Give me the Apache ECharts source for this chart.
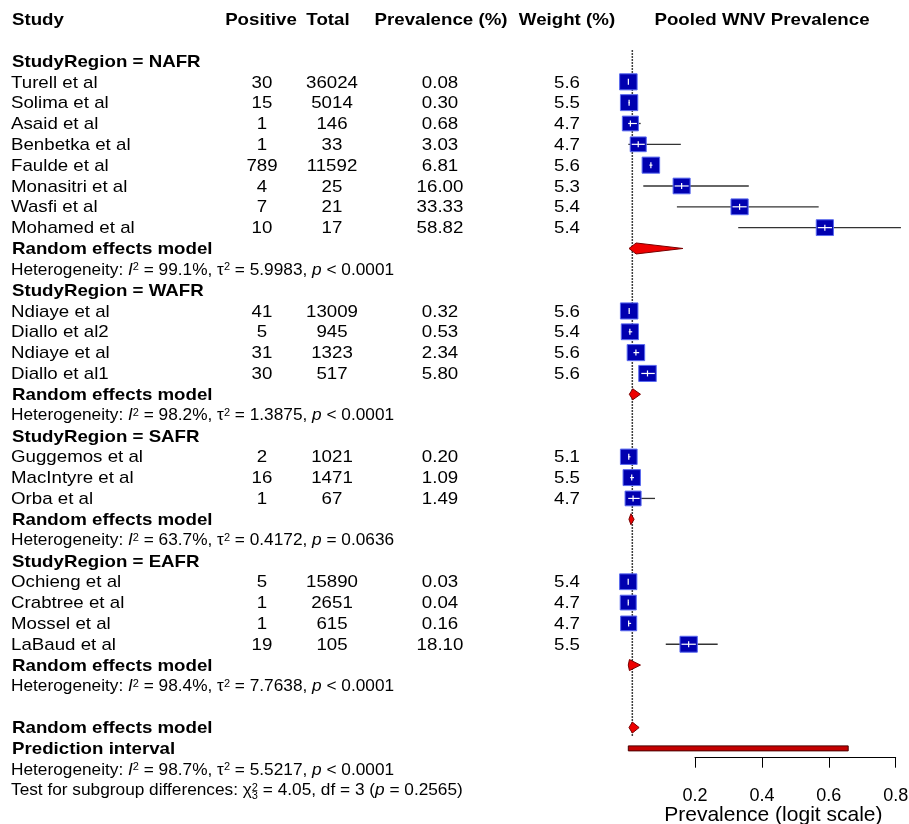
<!DOCTYPE html>
<html><head><meta charset="utf-8">
<script src="https://cdn.jsdelivr.net/npm/echarts@6/dist/echarts.min.js"></script>
<style>html,body{margin:0;padding:0;background:#fff}#chart{width:909px;height:824px}</style>
</head><body><div id="chart"></div>
<script>
// ---------------- data ----------------
const headers = ['Study', 'Positive', 'Total', 'Prevalence (%)', 'Weight (%)', 'Pooled WNV Prevalence'];
const regions = ['NAFR', 'WAFR', 'SAFR', 'EAFR'];
const studyNames = ['Turell et al', 'Solima et al', 'Asaid et al', 'Benbetka et al', 'Faulde et al', 'Monasitri et al', 'Wasfi et al', 'Mohamed et al',
  'Ndiaye et al', 'Diallo et al2', 'Ndiaye et al', 'Diallo et al1',
  'Guggemos et al', 'MacIntyre et al', 'Orba et al',
  'Ochieng et al', 'Crabtree et al', 'Mossel et al', 'LaBaud et al'];
const studyRegion = ['NAFR', 'NAFR', 'NAFR', 'NAFR', 'NAFR', 'NAFR', 'NAFR', 'NAFR',
  'WAFR', 'WAFR', 'WAFR', 'WAFR',
  'SAFR', 'SAFR', 'SAFR',
  'EAFR', 'EAFR', 'EAFR', 'EAFR'];
const positives = [30, 15, 1, 1, 789, 4, 7, 10, 41, 5, 31, 30, 2, 16, 1, 5, 1, 1, 19];
const totals = [36024, 5014, 146, 33, 11592, 25, 21, 17, 13009, 945, 1323, 517, 1021, 1471, 67, 15890, 2651, 615, 105];
const prevalencePct = [0.08, 0.30, 0.68, 3.03, 6.81, 16.00, 33.33, 58.82, 0.32, 0.53, 2.34, 5.80, 0.20, 1.09, 1.49, 0.03, 0.04, 0.16, 18.10];
const weightPct = [5.6, 5.5, 4.7, 4.7, 5.6, 5.3, 5.4, 5.4, 5.6, 5.4, 5.6, 5.6, 5.1, 5.5, 4.7, 5.4, 4.7, 4.7, 5.5];
const ciLowerPct = [0.06, 0.17, 0.02, 0.08, 6.36, 4.54, 14.59, 32.92, 0.23, 0.17, 1.60, 3.95, 0.02, 0.62, 0.04, 0.01, 0.00, 0.00, 11.26];
const ciUpperPct = [0.12, 0.49, 3.76, 15.76, 7.28, 36.08, 56.97, 81.56, 0.43, 1.23, 3.31, 8.18, 0.71, 1.76, 8.04, 0.07, 0.21, 0.90, 26.78];
const pooledEstPct = [2.4, 1.4, 0.85, 0.4];
const pooledLowerPct = [0.27, 0.36, 0.25, 0.05];
const pooledUpperPct = [16.4, 3.7, 1.8, 3.7];
const hetI2 = ['99.1%', '98.2%', '63.7%', '98.4%'];
const hetTau2 = ['5.9983', '1.3875', '0.4172', '7.7638'];
const hetP = ['< 0.0001', '< 0.0001', '= 0.0636', '< 0.0001'];
const overallEstPct = [1.26];
const overallLowerPct = [0.27];
const overallUpperPct = [3.3];
const predLowerPct = [0.06];
const predUpperPct = [65.8];
const overallHet = ['98.7%', '5.5217', '< 0.0001'];
const subgroupTest = ['4.05', '3', '0.2565'];
const xTicks = [0.2, 0.4, 0.6, 0.8];
const xTitle = 'Prevalence (logit scale)';

// ---------------- layout / style ----------------
const SX = 1.1;
const FONT = '"Liberation Sans", Arial, Helvetica, sans-serif';
const MAIN = 17, HET = 15.7;
const HEAD_X = [12, 261, 328, 441, 567, 762];
const HEAD_AL = ['left', 'center', 'center', 'center', 'center', 'center'];
const COLX = {name: 11, pos: 262, tot: 332, prev: 440, wt: 567};

// build row structure
const tableRows = [{row: -2, kind: 'header'}];
const studyRows = [], pooledRows = [];
let r = 0;
regions.forEach((reg, g) => {
  tableRows.push({row: r++, kind: 'region', g});
  studyNames.forEach((n, i) => {
    if (studyRegion[i] === reg) { studyRows.push({row: r, i}); tableRows.push({row: r++, kind: 'study', i}); }
  });
  pooledRows.push({row: r, est: pooledEstPct[g], lo: pooledLowerPct[g], hi: pooledUpperPct[g]});
  tableRows.push({row: r++, kind: 'pooled'});
  tableRows.push({row: r++, kind: 'het', g});
});
r++;
pooledRows.push({row: r, est: overallEstPct[0], lo: overallLowerPct[0], hi: overallUpperPct[0]});
tableRows.push({row: r++, kind: 'pooled'});
const predRow = r;
tableRows.push({row: r++, kind: 'pi'});
tableRows.push({row: r++, kind: 'ohet'});
tableRows.push({row: r++, kind: 'test'});

const RICH = {
  i: {fontStyle: 'italic', fontSize: HET, fontFamily: FONT, fill: '#000', color: '#000'},
  g: {fontSize: HET, fontFamily: FONT, fill: '#000', color: '#000'},
  sup: {fontSize: 10, fontFamily: FONT, fill: '#000', color: '#000', verticalAlign: 'top'}
};
function T(x, y, text, o) {
  o = o || {};
  return {type: 'text', x: x, y: y, scaleX: SX, silent: true,
    style: {text: text, x: 0, y: 0, fill: '#000', fontFamily: FONT, fontSize: o.size || MAIN,
      fontWeight: o.bold ? 'bold' : 'normal', align: o.align || 'left', verticalAlign: 'middle', rich: o.rich}};
}
function hetText(i2, tau, p) {
  return 'Heterogeneity: {i|I}{sup|2} = ' + i2 + ', {g|τ}{sup|2} = ' + tau + ', {i|p} ' + p;
}
const measureCtx = document.createElement('canvas').getContext('2d');
function measure(t, size) { measureCtx.font = size + 'px ' + FONT; return measureCtx.measureText(t).width; }

// row r sits at y = 61 + 20.83 r ; axis line at y = 757.7
const ROWPX = 20.83, Y0 = 61, YMIN = -1, YMAX = 34;
const gridTop = Y0 + YMIN * ROWPX, gridH = (YMAX - YMIN) * ROWPX;
const axisY = 757.7;

const chart = echarts.init(document.getElementById('chart'), null, {renderer: 'canvas'});
chart.setOption({
  animation: false,
  backgroundColor: '#fff',
  grid: {left: 695, right: 13.3, top: gridTop, height: gridH, containLabel: false, outerBoundsMode: 'none'},
  xAxis: {
    type: 'value', min: xTicks[0], max: xTicks[xTicks.length - 1], interval: 0.2,
    offset: axisY - (gridTop + gridH),
    axisLine: {show: true, onZero: false, lineStyle: {color: '#000', width: 1}},
    axisTick: {show: true, length: 10, lineStyle: {color: '#000', width: 1}},
    axisLabel: {fontSize: 18, color: '#000', fontFamily: FONT, margin: 29, formatter: v => v.toFixed(1)},
    splitLine: {show: false},
    name: xTitle, nameLocation: 'middle', nameGap: 47, nameMoveOverlap: false,
    nameTextStyle: {fontSize: 21, color: '#000', fontFamily: FONT, padding: [0, 44, 0, 0]}
  },
  yAxis: {type: 'value', inverse: true, min: YMIN, max: YMAX, interval: 1, show: false},
  series: [
    { // reference line at overall estimate
      type: 'custom', clip: false, silent: true, z: 1,
      data: [[overallEstPct[0] / 100, -0.52, 32.4]],
      renderItem: (p, api) => {
        const a = api.coord([api.value(0), api.value(1)]);
        const b = api.coord([api.value(0), api.value(2)]);
        return {type: 'line', shape: {x1: a[0], y1: a[1], x2: b[0], y2: b[1]},
          style: {stroke: '#000', lineWidth: 1.5, lineDash: [1.5, 1.5]}};
      }
    },
    { // studies
      type: 'custom', clip: false, silent: true, z: 3,
      data: studyRows.map(d => [prevalencePct[d.i] / 100, d.row, ciLowerPct[d.i] / 100, ciUpperPct[d.i] / 100, weightPct[d.i]]),
      renderItem: (p, api) => {
        const row = api.value(1);
        const c = api.coord([api.value(0), row]);
        const lo = api.coord([api.value(2), row]);
        const hi = api.coord([api.value(3), row]);
        const w = api.value(4);
        const sw = Math.sqrt(w) * 7.4, sh = Math.sqrt(w) * 6.8;
        const x0 = c[0] - sw / 2, x1 = c[0] + sw / 2;
        const ch = [
          {type: 'line', shape: {x1: lo[0], y1: c[1], x2: hi[0], y2: c[1]}, style: {stroke: '#333', lineWidth: 1.3}},
          {type: 'rect', shape: {x: x0, y: c[1] - sh / 2, width: sw, height: sh}, style: {fill: '#0000b0', stroke: '#5a6af0', lineWidth: 1}}
        ];
        const ix0 = Math.max(lo[0], x0 + 1.5), ix1 = Math.min(hi[0], x1 - 1.5);
        if (ix1 > ix0) ch.push({type: 'line', shape: {x1: ix0, y1: c[1], x2: ix1, y2: c[1]}, style: {stroke: '#fff', lineWidth: 1.2}});
        ch.push({type: 'line', shape: {x1: c[0], y1: c[1] - 3, x2: c[0], y2: c[1] + 3}, style: {stroke: '#fff', lineWidth: 1.2}});
        return {type: 'group', children: ch};
      }
    },
    { // pooled diamonds
      type: 'custom', clip: false, silent: true, z: 4,
      data: pooledRows.map(d => [d.est / 100, d.row, d.lo / 100, d.hi / 100]),
      renderItem: (p, api) => {
        const row = api.value(1);
        const c = api.coord([api.value(0), row]);
        const lo = api.coord([api.value(2), row]);
        const hi = api.coord([api.value(3), row]);
        const h = 5.5;
        return {type: 'polygon', shape: {points: [[lo[0], c[1]], [c[0], c[1] - h], [hi[0], c[1]], [c[0], c[1] + h]]},
          style: {fill: '#ee0000', stroke: '#7a0000', lineWidth: 1}};
      }
    },
    { // prediction interval
      type: 'custom', clip: false, silent: true, z: 4,
      data: [[predLowerPct[0] / 100, predRow, predUpperPct[0] / 100]],
      renderItem: (p, api) => {
        const a = api.coord([api.value(0), api.value(1)]);
        const b = api.coord([api.value(2), api.value(1)]);
        return {type: 'rect', shape: {x: a[0], y: a[1] - 2.5, width: b[0] - a[0], height: 5},
          style: {fill: '#c40000', stroke: '#4a0000', lineWidth: 1}};
      }
    },
    { // table text
      type: 'custom', clip: false, silent: true, z: 5,
      data: tableRows.map((d, k) => [xTicks[0], d.row, k]),
      renderItem: (p, api) => {
        const d = tableRows[api.value(2)];
        const y = api.coord([xTicks[0], api.value(1)])[1] + 1;
        let ch = [];
        if (d.kind === 'header') {
          ch = headers.map((h, j) => T(HEAD_X[j], y, h, {bold: true, align: HEAD_AL[j]}));
        } else if (d.kind === 'region') {
          ch = [T(12, y, 'StudyRegion = ' + regions[d.g], {bold: true})];
        } else if (d.kind === 'study') {
          const i = d.i;
          ch = [T(COLX.name, y, studyNames[i]),
            T(COLX.pos, y, String(positives[i]), {align: 'center'}),
            T(COLX.tot, y, String(totals[i]), {align: 'center'}),
            T(COLX.prev, y, prevalencePct[i].toFixed(2), {align: 'center'}),
            T(COLX.wt, y, weightPct[i].toFixed(1), {align: 'center'})];
        } else if (d.kind === 'pooled') {
          ch = [T(12, y, 'Random effects model', {bold: true})];
        } else if (d.kind === 'het') {
          ch = [T(11, y, hetText(hetI2[d.g], hetTau2[d.g], hetP[d.g]), {size: HET, rich: RICH})];
        } else if (d.kind === 'pi') {
          ch = [T(12, y, 'Prediction interval', {bold: true})];
        } else if (d.kind === 'ohet') {
          ch = [T(11, y, hetText(overallHet[0], overallHet[1], overallHet[2]), {size: HET, rich: RICH})];
        } else if (d.kind === 'test') {
          const pre = 'Test for subgroup differences: χ';
          const txt = pre + '{sup|2} = ' + subgroupTest[0] + ', df = ' + subgroupTest[1] + ' ({i|p} = ' + subgroupTest[2] + ')';
          const sx = 11 + SX * measure(pre, HET);
          ch = [T(11, y, txt, {size: HET, rich: RICH}),
            {type: 'text', x: sx, y: y + 5, scaleX: SX, silent: true,
              style: {text: subgroupTest[1], x: 0, y: 0, fill: '#000', fontFamily: FONT, fontSize: 10, align: 'left', verticalAlign: 'middle'}}];
        }
        return {type: 'group', children: ch};
      }
    }
  ]
});
</script></body></html>
